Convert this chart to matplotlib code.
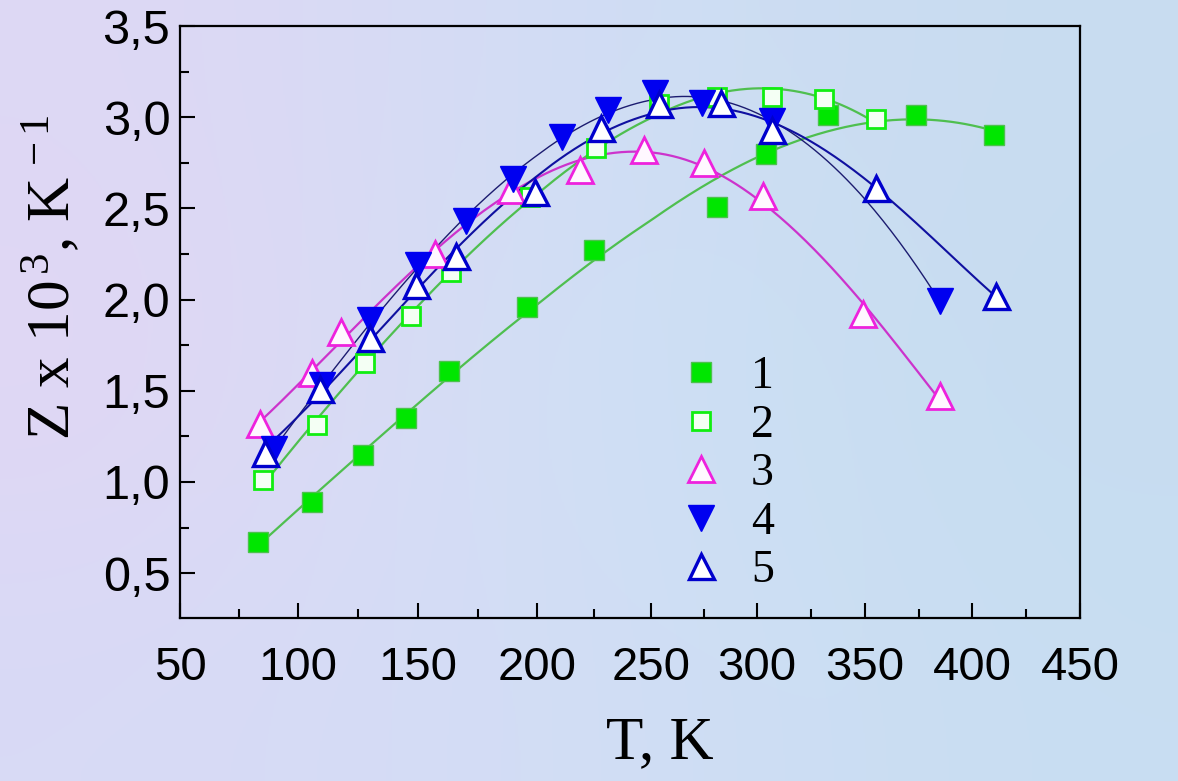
import numpy as np
import matplotlib
matplotlib.use("Agg")
import matplotlib.pyplot as plt
from matplotlib.lines import Line2D
from matplotlib.ticker import MultipleLocator, FuncFormatter, FixedLocator

# ---------------- data ----------------
t1 = [83, 106, 127, 145, 163, 196, 225, 281, 304, 333, 374, 410]
z1 = [0.67, 0.89, 1.15, 1.35, 1.61, 1.96, 2.27, 2.51, 2.80, 3.01, 3.01, 2.90]
t2 = [85, 108, 128, 147, 164, 197, 226, 254, 281, 307, 331, 355]
z2 = [1.01, 1.31, 1.65, 1.91, 2.15, 2.56, 2.83, 3.07, 3.11, 3.11, 3.10, 2.99]
t3 = [84, 106, 118, 157, 189, 219, 247, 275, 303, 349, 385]
z3 = [1.32, 1.60, 1.82, 2.25, 2.60, 2.71, 2.82, 2.75, 2.57, 1.92, 1.47]
t4 = [90, 110, 130, 150, 170, 190, 211, 231, 252, 274, 307, 385]
z4 = [1.18, 1.53, 1.89, 2.19, 2.43, 2.66, 2.89, 3.04, 3.13, 3.08, 2.98, 1.99]
t5 = [86, 109, 130, 149, 166, 199, 228, 254, 283, 307, 355, 411]
z5 = [1.16, 1.51, 1.79, 2.08, 2.24, 2.59, 2.94, 3.07, 3.08, 2.93, 2.61, 2.02]
series_labels = ["1", "2", "3", "4", "5"]
x_tick_values = [50, 100, 150, 200, 250, 300, 350, 400, 450]
y_tick_values = [0.5, 1.0, 1.5, 2.0, 2.5, 3.0, 3.5]
x_label = "T, K"
y_label = r"Z x 10$^{\,3}$, K$^{\,-1}$"

# ---------------- layout / style ----------------
# the printed x axis is slightly non-uniform: relative spacing of its major ticks
x_axis_spacing = [0, 118, 238, 357, 471, 577, 685, 792, 900]


def _pwl(v, xs, ys):
    v = np.asarray(v, dtype=float)
    shape = v.shape
    v = np.atleast_1d(v)
    xs = np.asarray(xs, float)
    ys = np.asarray(ys, float)
    out = np.interp(v, xs, ys)
    lo = v < xs[0]
    hi = v > xs[-1]
    s0 = (ys[1] - ys[0]) / (xs[1] - xs[0])
    s1 = (ys[-1] - ys[-2]) / (xs[-1] - xs[-2])
    out[lo] = ys[0] + (v[lo] - xs[0]) * s0
    out[hi] = ys[-1] + (v[hi] - xs[-1]) * s1
    return out.reshape(shape)


def fwd(v):
    return _pwl(v, x_tick_values, x_axis_spacing)


def inv(v):
    return _pwl(v, x_axis_spacing, x_tick_values)


plt.rcParams["mathtext.fontset"] = "custom"
plt.rcParams["mathtext.rm"] = "Liberation Serif"
plt.rcParams["mathtext.it"] = "Liberation Serif:italic"

W, H = 1178, 781
fig = plt.figure(figsize=(W / 100, H / 100), dpi=100)

# soft lavender / light-blue background
bg = fig.add_axes([0, 0, 1, 1], zorder=-10)
bg_cols = np.array([
    [[222, 216, 245], [208, 222, 245], [200, 220, 240]],
    [[226, 214, 244], [206, 226, 246], [198, 220, 240]],
    [[216, 218, 246], [210, 222, 245], [200, 222, 242]],
]) / 255.0
bg.imshow(bg_cols, extent=[0, 1, 0, 1], aspect="auto", interpolation="bicubic")
bg.set_axis_off()

ax = fig.add_axes([180 / W, 1 - 618 / H, 900 / W, 592 / H])
ax.set_facecolor("none")
ax.set_xscale("function", functions=(fwd, inv))

styles = [
    dict(marker="s", ms=14, mfc="#00e600", mec="#4cc24c", mew=1.0, lc="#4fbf4f", lw=1.6),
    dict(marker="s", ms=13, mfc="#f4fff4", mec="#11ee11", mew=2.0, lc="#4fbf4f", lw=1.6),
    dict(marker="^", ms=19, mfc="#fff8ff", mec="#ee22dd", mew=2.0, lc="#cc33cc", lw=1.6),
    dict(marker="v", ms=19, mfc="#0000f0", mec="#0000f0", mew=1.0, lc="#1c1c70", lw=1.0),
    dict(marker="^", ms=18, mfc="#ffffff", mec="#0000cc", mew=2.4, lc="#1010a0", lw=1.5),
]
series = [(t1, z1, 3), (t2, z2, 3), (t3, z3, 4), (t4, z4, 4), (t5, z5, 4)]

handles = []
for i, ((t, z, deg), st) in enumerate(zip(series, styles)):
    t = np.asarray(t, float)
    z = np.asarray(z, float)
    p = np.polynomial.Polynomial.fit(t, z, deg)
    tt = np.linspace(t.min(), t.max(), 300)
    ax.plot(tt, p(tt), color=st["lc"], lw=st["lw"], zorder=2 + i * 0.1)
for i, ((t, z, deg), st) in enumerate(zip(series, styles)):
    ax.plot(t, z, ls="none", marker=st["marker"], ms=st["ms"], mfc=st["mfc"],
            mec=st["mec"], mew=st["mew"], zorder=5 + i)
    handles.append(Line2D([], [], ls="none", marker=st["marker"], ms=st["ms"],
                          mfc=st["mfc"], mec=st["mec"], mew=st["mew"]))

ax.set_xlim(50, 450)
ax.set_ylim(0.254, 3.5)
ax.xaxis.set_major_locator(FixedLocator(x_tick_values))
ax.xaxis.set_minor_locator(FixedLocator(np.arange(75, 450, 50)))
ax.yaxis.set_major_locator(FixedLocator(y_tick_values))
ax.yaxis.set_minor_locator(MultipleLocator(0.25))
ax.xaxis.set_major_formatter(FuncFormatter(lambda v, p: f"{v:.0f}"))
ax.xaxis.set_minor_formatter(FuncFormatter(lambda v, p: ""))
ax.yaxis.set_major_formatter(FuncFormatter(lambda v, p: f"{v:.1f}".replace(".", ",")))

for sp in ax.spines.values():
    sp.set_linewidth(1.6)
    sp.set_color("black")
ax.tick_params(which="both", direction="in", top=False, right=False, width=1.5, color="black")
ax.tick_params(which="major", length=11)
ax.tick_params(which="minor", length=6.5)
ax.tick_params(axis="x", which="major", pad=20, labelsize=34)
ax.tick_params(axis="y", which="major", pad=7, labelsize=35)
for lab in ax.get_xticklabels() + ax.get_yticklabels():
    lab.set_fontfamily("Liberation Sans")

ax.set_xlabel(x_label, fontsize=44, family="Liberation Serif")
ax.xaxis.label.set_va("center")
ax.xaxis.set_label_coords(0.533, -0.212)
ax.set_ylabel(y_label, fontsize=44, family="Liberation Serif")
ax.yaxis.label.set_va("center")
ax.yaxis.set_label_coords(-0.142, 0.575)

leg = ax.legend(handles, series_labels, loc="upper left", bbox_to_anchor=(0.553, 0.443),
                frameon=False, borderpad=0, borderaxespad=0, handlelength=1.0,
                handletextpad=0.6, labelspacing=0.13,
                prop={"family": "Liberation Serif", "size": 33})

fig.savefig("out.png", dpi=100)
